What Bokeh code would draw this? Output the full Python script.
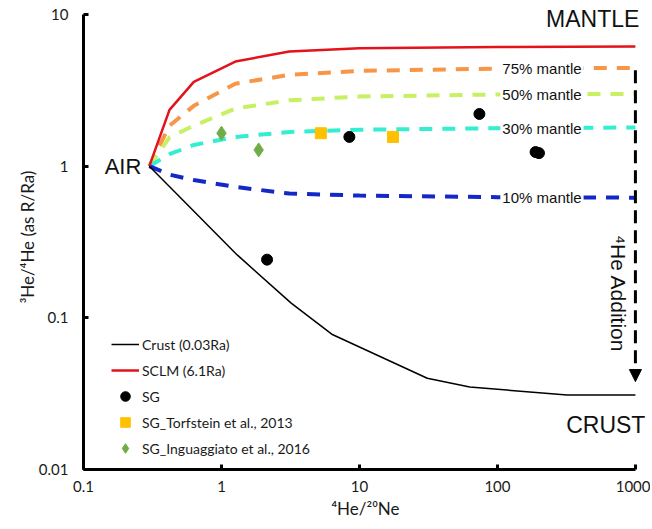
import math
from bokeh.plotting import figure
from bokeh.models import (Label, Arrow, NormalHead, Legend, LegendItem, FixedTicker,
                          Range1d, CustomJSTickFormatter)
from bokeh.embed import file_html
from bokeh.resources import INLINE

# ---- data ----
mix_x = [0.3, 0.42, 0.63, 1.26, 3.1, 10, 100, 1000]
sclm_y = [1.0, 2.35, 3.6, 4.9, 5.7, 6.0, 6.1, 6.15]
m75_y = [1.0, 1.85, 2.5, 3.5, 4.0, 4.25, 4.4, 4.45]
m50_y = [1.0, 1.55, 1.85, 2.4, 2.72, 2.88, 2.97, 3.0]
m30_y = [1.0, 1.2, 1.38, 1.56, 1.68, 1.74, 1.78, 1.8]
m10_y = [1.0, 0.88, 0.81, 0.73, 0.66, 0.64, 0.625, 0.62]
crust_x = [0.3, 1.3, 3.2, 6.3, 31, 63, 320, 1000]
crust_y = [1.0, 0.26, 0.125, 0.078, 0.040, 0.035, 0.031, 0.031]
sg_x = [2.14, 8.45, 74, 189, 200]
sg_y = [0.242, 1.56, 2.21, 1.24, 1.22]
torf_x = [5.25, 17.5]
torf_y = [1.65, 1.56]
ingu_x = [1.0, 1.86]
ingu_y = [1.65, 1.28]
addition_x = 1000
addition_y = [4.3, 0.038]
x_ticks = [0.1, 1, 10, 100, 1000]
y_ticks = [0.01, 0.1, 1, 10]
mantle_labels = ["75% mantle", "50% mantle", "30% mantle", "10% mantle"]

TICK_FONT = "Lato"
ARIAL = "Liberation Sans"

x_pad = 10 ** (12 / 137)
y_pad = 10 ** (10 / 151)
p = figure(width=637, height=524, x_axis_type="log", y_axis_type="log",
           x_range=Range1d(0.1, 1000 * x_pad), y_range=Range1d(0.01, 10 * y_pad),
           output_backend="svg", toolbar_location=None,
           min_border_left=0, min_border_right=3, min_border_top=4, min_border_bottom=55)
p.margin = (0, 0, 0, 13)
p.outline_line_color = None
p.grid.visible = False
p.background_fill_color = "white"

fmt = CustomJSTickFormatter(code="return String(tick)")
for ax, ticks, bnds in ((p.xaxis[0], x_ticks, (0.1, 1000)), (p.yaxis[0], y_ticks, (0.01, 10))):
    ax.ticker = FixedTicker(ticks=ticks, minor_ticks=[])
    ax.bounds = bnds
    ax.formatter = fmt
    ax.axis_line_width = 3
    ax.axis_line_color = "black"
    ax.major_tick_line_width = 3
    ax.major_tick_line_color = "black"
    ax.major_tick_in = 5
    ax.major_tick_out = 0
    ax.minor_tick_line_color = None
    ax.major_label_text_font = TICK_FONT
    ax.major_label_text_font_size = "15px"
    ax.major_label_text_color = "#1a1a1a"
    ax.axis_label_text_font = TICK_FONT
    ax.axis_label_text_font_size = "17px"
    ax.axis_label_text_font_style = "normal"
    ax.axis_label_text_color = "#1a1a1a"
p.xaxis.major_label_standoff = 11
p.yaxis.major_label_standoff = 15
p.xaxis.axis_label = "\u2074He/\u00b2\u2070Ne"
p.yaxis.axis_label = "\u00b3He/\u2074He (as R/Ra)"
p.xaxis.axis_label_standoff = 3
p.yaxis.axis_label_standoff = -2

dash = "13 10"
r75 = p.line(mix_x, m75_y, line_color="#F79646", line_width=4, line_dash=dash)
r50 = p.line(mix_x, m50_y, line_color="#C8F064", line_width=4, line_dash=dash)
r30 = p.line(mix_x, m30_y, line_color="#33EED0", line_width=4, line_dash=dash)
r10 = p.line(mix_x, m10_y, line_color="#1428C8", line_width=4, line_dash=dash)
r_sclm = p.line(mix_x, sclm_y, line_color="#E3121B", line_width=2.5)
r_crust = p.line(crust_x, crust_y, line_color="black", line_width=1.5)

arrow = Arrow(end=NormalHead(size=12, fill_color="black", line_color="black"),
              x_start=addition_x, y_start=addition_y[0], x_end=addition_x, y_end=addition_y[1],
              line_width=3, line_dash="13 7", line_color="black")
p.add_layout(arrow)

r_sg = p.scatter(sg_x, sg_y, marker="circle", size=11, color="black")
r_torf = p.scatter(torf_x, torf_y, marker="square", size=11, color="#FFC000")
r_ingu = p.scatter(ingu_x, ingu_y, marker="diamond", size=14, color="#70AD47")

for txt, yv in zip(mantle_labels, [m75_y[6], m50_y[6], m30_y[6], m10_y[6]]):
    p.add_layout(Label(x=105, y=yv, text=txt, text_font=ARIAL, text_font_size="15px",
                       text_baseline="middle", text_align="left", text_color="#111111",
                       background_fill_color="white", padding=2))

p.add_layout(Label(x=1000, y=9.3, x_offset=4, text="MANTLE", text_font=ARIAL,
                   text_font_size="23px", text_align="right", text_baseline="middle",
                   text_color="#111111"))
p.add_layout(Label(x=1000, y=0.0196, x_offset=10, text="CRUST", text_font=ARIAL,
                   text_font_size="23px", text_align="right", text_baseline="middle",
                   text_color="#111111"))
p.add_layout(Label(x=0.3, y=1.0, x_offset=-8, text="AIR", text_font=ARIAL,
                   text_font_size="22px", text_align="right", text_baseline="middle",
                   text_color="#111111"))
p.add_layout(Label(x=750, y=0.144, text="\u2074He Addition", text_font=ARIAL,
                   text_font_size="21px", text_align="center", text_baseline="middle",
                   angle=-math.pi / 2, text_color="#111111"))

legend = Legend(items=[
    LegendItem(label="Crust (0.03Ra)", renderers=[r_crust]),
    LegendItem(label="SCLM (6.1Ra)", renderers=[r_sclm]),
    LegendItem(label="SG", renderers=[r_sg]),
    LegendItem(label="SG_Torfstein et al., 2013", renderers=[r_torf]),
    LegendItem(label="SG_Inguaggiato et al., 2016", renderers=[r_ingu]),
], location=(28, 9))
legend.border_line_color = None
legend.background_fill_alpha = 0
legend.padding = 5
legend.margin = 0
legend.spacing = 2
legend.glyph_width = 28
legend.glyph_height = 24
legend.label_height = 24
legend.label_standoff = 3
legend.label_text_font = TICK_FONT
legend.label_text_font_size = "14px"
legend.label_text_color = "#1a1a1a"
p.add_layout(legend)

open("out.html", "w").write(file_html(p, INLINE))
